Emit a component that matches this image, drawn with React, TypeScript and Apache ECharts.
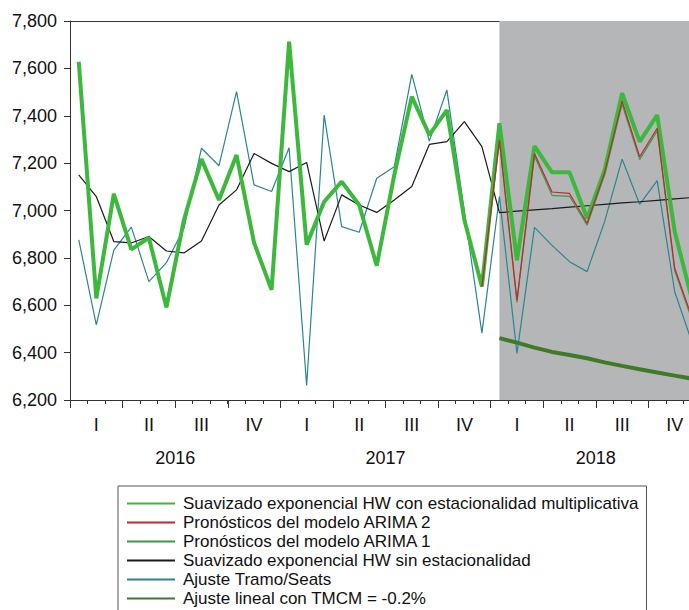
import React, { useEffect, useRef } from "react";
import * as echarts from "echarts";

const years = ["2016", "2017", "2018"];
const quarterLabels = ["I", "II", "III", "IV"];
const monthNames = ["01", "02", "03", "04", "05", "06", "07", "08", "09", "10", "11", "12"];

// Suavizado exponencial HW con estacionalidad multiplicativa
const hwMult = [
  7628, 6629, 7070, 6836, 6885, 6591, 6960, 7217, 7044, 7234, 6864, 6665,
  7713, 6855, 7037, 7122, 7023, 6767, 7150, 7481, 7319, 7424, 6960, 6679,
  7368, 6790, 7272, 7161, 7161, 6967, 7170, 7495, 7291, 7403, 6911, 6620,
];
// Pronósticos del modelo ARIMA 2
const arima2 = [
  null, null, null, null, null, null, null, null, null, null, null, null,
  null, null, null, null, null, null, null, null, null, null, null, 6679,
  7298, 6622, 7241, 7078, 7072, 6946, 7160, 7462, 7227, 7347, 6756, 6545,
];
// Pronósticos del modelo ARIMA 1
const arima1 = [
  null, null, null, null, null, null, null, null, null, null, null, null,
  null, null, null, null, null, null, null, null, null, null, null, 6679,
  7290, 6612, 7230, 7064, 7060, 6938, 7150, 7448, 7215, 7336, 6745, 6535,
];
// Suavizado exponencial HW sin estacionalidad
const hwSin = [
  7150, 7059, 6869, 6863, 6890, 6829, 6821, 6871, 7023, 7087, 7241, 7199,
  7164, 7203, 6871, 7066, 7023, 6992, 7044, 7101, 7279, 7291, 7375, 7270,
  6991, 6997, 7003, 7008, 7014, 7020, 7026, 7032, 7037, 7043, 7049, 7055,
];
// Ajuste Tramo/Seats
const tramo = [
  6876, 6517, 6833, 6930, 6700, 6780, 6925, 7263, 7189, 7502, 7108, 7080,
  7265, 6261, 7403, 6932, 6908, 7136, 7185, 7575, 7293, 7509, 6995, 6482,
  7059, 6397, 6929, 6853, 6784, 6742, 6953, 7217, 7026, 7126, 6657, 6440,
];
// Ajuste lineal con TMCM = -0.2%
const lineal = [
  null, null, null, null, null, null, null, null, null, null, null, null,
  null, null, null, null, null, null, null, null, null, null, null, null,
  6461, 6442, 6421, 6403, 6390, 6376, 6359, 6344, 6330, 6316, 6303, 6290,
];

const forecastStart = 24;

const names = {
  hwMult: "Suavizado exponencial HW con estacionalidad multiplicativa",
  arima2: "Pronósticos del modelo ARIMA 2",
  arima1: "Pronósticos del modelo ARIMA 1",
  hwSin: "Suavizado exponencial HW sin estacionalidad",
  tramo: "Ajuste Tramo/Seats",
  lineal: "Ajuste lineal con TMCM = -0.2%",
};

const FONT = "'Liberation Sans', Arial, sans-serif";

// The reference picture is a crop of a wider/taller chart.
const CHART_W = 720;
const CHART_H = 650;

export default function App() {
  const ref = useRef<HTMLDivElement>(null);

  useEffect(() => {
    if (!ref.current) return;
    const chart = echarts.init(ref.current, null, { renderer: "svg" });

    const months: string[] = [];
    years.forEach((y) => monthNames.forEach((m) => months.push(y + "M" + m)));
    const quarters: string[] = [];
    years.forEach((y) => quarterLabels.forEach((q) => quarters.push(y + "-" + q)));

    const lineSeries = (name: string, data: (number | null)[], color: string, width: number, z: number) => ({
      name,
      type: "line",
      data,
      xAxisIndex: 0,
      yAxisIndex: 0,
      symbol: "none",
      showSymbol: false,
      connectNulls: false,
      z,
      color,
      lineStyle: { color, width },
      itemStyle: { color },
    });

    chart.setOption({
      animation: false,
      backgroundColor: "#ffffff",
      textStyle: { fontFamily: FONT },
      grid: { left: 70, right: CHART_W - 701, top: 21, bottom: CHART_H - 400, containLabel: false },
      xAxis: [
        {
          type: "category",
          data: months,
          position: "bottom",
          boundaryGap: true,
          axisLine: { show: true, lineStyle: { color: "#333", width: 1 } },
          axisTick: { show: true, interval: 0, length: 4, lineStyle: { color: "#333" } },
          axisLabel: { show: false },
          splitLine: { show: false },
        },
        {
          type: "category",
          data: quarters,
          position: "bottom",
          boundaryGap: true,
          axisLine: { show: false },
          axisTick: { show: true, interval: 0, length: 8, lineStyle: { color: "#333" } },
          axisLabel: {
            show: true,
            interval: 0,
            margin: 16,
            fontSize: 18,
            color: "#111",
            fontFamily: FONT,
            formatter: (v: string) => v.split("-")[1],
          },
          splitLine: { show: false },
        },
        {
          type: "category",
          data: years,
          position: "bottom",
          boundaryGap: true,
          axisLine: { show: false },
          axisTick: { show: false },
          axisLabel: { show: true, interval: 0, margin: 49, fontSize: 18, color: "#111", fontFamily: FONT },
          splitLine: { show: false },
        },
        {
          type: "category",
          data: months,
          position: "top",
          axisLine: { show: true, lineStyle: { color: "#333", width: 1 } },
          axisTick: { show: false },
          axisLabel: { show: false },
          splitLine: { show: false },
        },
      ],
      yAxis: {
        type: "value",
        min: 6200,
        max: 7800,
        interval: 200,
        axisLine: { show: true, lineStyle: { color: "#333", width: 1 } },
        axisTick: { show: true, length: 6, lineStyle: { color: "#333" } },
        axisLabel: {
          margin: 13,
          fontSize: 18,
          color: "#111",
          fontFamily: FONT,
          formatter: (v: number) => v.toLocaleString("en-US"),
        },
        splitLine: { show: false },
      },
      legend: {
        orient: "vertical",
        left: 118,
        top: 486,
        padding: [9, 8, 10, 8],
        itemWidth: 48,
        itemHeight: 14,
        itemGap: 2,
        borderColor: "#555",
        borderWidth: 1,
        backgroundColor: "#fff",
        itemStyle: { opacity: 0 },
        textStyle: { fontSize: 17, color: "#111", fontFamily: FONT, padding: [0, 0, 0, 3] },
        data: [names.hwMult, names.arima2, names.arima1, names.hwSin, names.tramo, names.lineal],
      },
      series: [
        {
          name: "shade",
          type: "line",
          data: [],
          z: 1,
          silent: true,
          markArea: {
            silent: true,
            itemStyle: { color: "#b4b6b7" },
            data: [[{ xAxis: months[forecastStart] }, { xAxis: months[months.length - 1] }]],
          },
        },
        lineSeries(names.tramo, tramo, "#2b8590", 1.2, 3),
        lineSeries(names.hwSin, hwSin, "#1a1a1a", 1.2, 4),
        lineSeries(names.hwMult, hwMult, "#3cb83c", 4, 5),
        lineSeries(names.arima1, arima1, "#3a9a48", 1.2, 6),
        lineSeries(names.arima2, arima2, "#c0282d", 1.2, 7),
        lineSeries(names.lineal, lineal, "#3f7a2a", 4, 8),
      ],
    });

    return () => chart.dispose();
  }, []);

  return (
    <div style={{ position: "absolute", left: 0, top: 0, width: 689, height: 610, overflow: "hidden" }}>
      <div ref={ref} style={{ width: CHART_W, height: CHART_H }} />
    </div>
  );
}
